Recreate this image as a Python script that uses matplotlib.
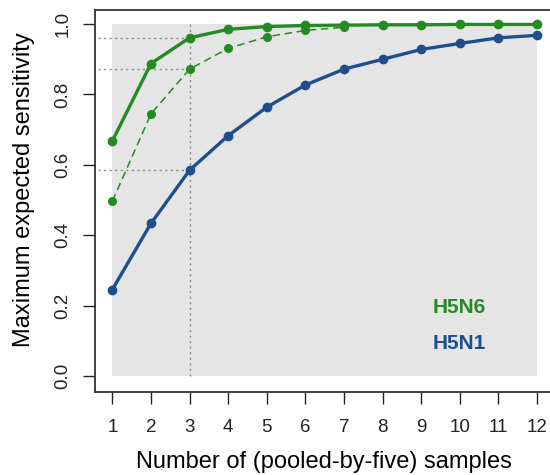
import matplotlib
matplotlib.use("Agg")
import matplotlib.pyplot as plt
from matplotlib.patches import Rectangle

samples = list(range(1, 13))
h5n6_max = [0.668, 0.888, 0.961, 0.985, 0.993, 0.996, 0.997, 0.998, 0.998, 0.999, 0.999, 0.999]
h5n6_alt = [0.497, 0.745, 0.872, 0.931, 0.964, 0.982, 0.991]
h5n1 = [0.246, 0.434, 0.585, 0.683, 0.764, 0.827, 0.872, 0.900, 0.928, 0.945, 0.961, 0.968]
ref_x = 3
xticks = list(range(1, 13))
yticks = [0.0, 0.2, 0.4, 0.6, 0.8, 1.0]
ytick_labels = ["0.0", "0.2", "0.4", "0.6", "0.8", "1.0"]
legend_labels = ["H5N6", "H5N1"]

green = "#228B22"
blue = "#1D4F8F"

plt.rcParams["font.family"] = ["Liberation Sans", "DejaVu Sans"]

fig = plt.figure(figsize=(5.5, 4.75), dpi=100)
W, H = 550, 475
left, right, bottom, top = 95, 554, 392, 10
ax = fig.add_axes([left / W, (H - bottom) / H, (right - left) / W, (bottom - top) / H])
ax.set_xlim(1 - 0.45, 12 + 0.44)
ax.set_ylim(-0.045, 1.04)

ax.add_patch(Rectangle((1, 0), 11, 1, facecolor="#E5E5E5", edgecolor="none", zorder=0))

# reference dotted lines
ref_vals = [h5n6_max[ref_x - 1], h5n6_alt[ref_x - 1], h5n1[ref_x - 1]]
for v in ref_vals:
    ax.plot([0.63, ref_x], [v, v], color="#888888", lw=1.0, ls=(0, (1.5, 2.5)), zorder=1)
ax.plot([ref_x, ref_x], [0, 1], color="#888888", lw=1.0, ls=(0, (1.5, 2.5)), zorder=1)

ax.plot(samples[:len(h5n6_alt)], h5n6_alt, color=green, lw=1.1, ls=(0, (5, 3)),
        marker="o", ms=5.5, zorder=3)
ax.plot(samples, h5n1, color=blue, lw=2.4, marker="o", ms=6, zorder=4)
ax.plot(samples, h5n6_max, color=green, lw=2.4, marker="o", ms=6, zorder=5)

ax.text(9.29, 0.195, legend_labels[0], color=green, fontsize=15, fontweight="bold",
        ha="left", va="center")
ax.text(9.29, 0.092, legend_labels[1], color=blue, fontsize=15, fontweight="bold",
        ha="left", va="center")

ax.set_xticks(xticks)
ax.set_yticks(yticks)
ax.set_yticklabels(ytick_labels, rotation=90, va="center")
ax.tick_params(axis="both", direction="out", length=8.5, width=1.0, labelsize=13.5,
               colors="#222222")
ax.tick_params(axis="x", pad=11)
ax.tick_params(axis="y", pad=8.5)
for sp in ax.spines.values():
    sp.set_linewidth(1.3)
    sp.set_color("#333333")

ax.set_xlabel("Number of (pooled-by-five) samples", fontsize=17, va="center")
ax.set_ylabel("Maximum expected sensitivity", fontsize=17, va="center")
ax.xaxis.set_label_coords((324 - left) / (right - left), (bottom - 462) / (bottom - top))
ax.yaxis.set_label_coords((24 - left) / (right - left), (bottom - 190) / (bottom - top))

fig.savefig("out.png", dpi=100)
